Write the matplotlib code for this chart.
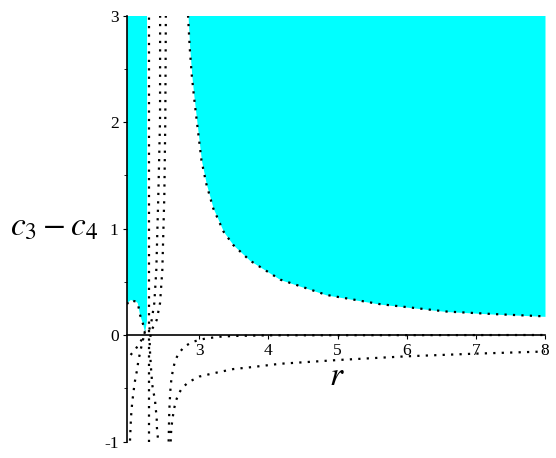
import numpy as np
import matplotlib
matplotlib.use("Agg")
import matplotlib.pyplot as plt

plt.rcParams['font.family'] = ['Liberation Serif', 'DejaVu Serif']
plt.rcParams['mathtext.fontset'] = 'stix'
plt.rcParams['axes.unicode_minus'] = False

# --- data ---
x_min, x_max = 1.953, 8.0
y_min, y_max = -1.0, 3.0

# right boundary of the big cyan region
hyp_x = [2.836, 2.86, 2.89, 2.92, 2.95, 3.03, 3.10, 3.20, 3.35, 3.49, 3.73, 4.17, 4.84, 5.61, 6.58, 7.3, 8.0]
hyp_y = [3.0, 2.70, 2.44, 2.25, 2.08, 1.64, 1.42, 1.19, 0.97, 0.845, 0.70, 0.52, 0.376, 0.29, 0.22, 0.195, 0.175]

# bottom of the narrow cyan strip (bump), ending at the tip
bump_x = [1.953, 1.975, 2.01, 2.04, 2.08, 2.108, 2.127, 2.141, 2.166, 2.189, 2.203, 2.213]
bump_y = [0.29, 0.31, 0.33, 0.32, 0.315, 0.30, 0.24, 0.19, 0.14, 0.094, 0.054, 0.031]
# right edge of the strip, from the tip upwards
strip_x = [2.213, 2.225, 2.243, 2.243]
strip_y = [0.031, 0.06, 0.14, 3.0]

# branch leaving the tip to the left
e_x = [2.213, 2.19, 2.141, 2.079, 1.996, 1.953]
e_y = [0.031, -0.016, -0.07, -0.131, -0.194, -0.22]

# branch with asymptote near r = 2
f_x = [2.19, 2.166, 2.141, 2.117, 2.102, 2.079, 2.059, 2.045, 2.030, 2.021, 2.011, 2.006, 2.001, 1.996]
f_y = [-0.03, -0.094, -0.17, -0.24, -0.32, -0.39, -0.47, -0.55, -0.62, -0.69, -0.77, -0.845, -0.92, -1.0]

# vertical dotted line
vline_x = 2.275

# two curves above the axis meeting near the tip
q1_x = [2.432, 2.431, 2.406, 2.377, 2.348, 2.31, 2.275, 2.255]
q1_y = [3.0, 2.02, 1.31, 0.61, 0.30, 0.14, 0.05, 0.0]
q2_x = [2.515, 2.507, 2.493, 2.464, 2.431, 2.382, 2.31, 2.28, 2.285, 2.30, 2.319, 2.334,
        2.358, 2.368, 2.383, 2.383, 2.392, 2.406]
q2_y = [3.0, 2.02, 1.31, 0.61, 0.30, 0.14, 0.047, -0.05, -0.15, -0.31, -0.47, -0.53,
        -0.61, -0.69, -0.77, -0.845, -0.92, -1.0]

# curves with asymptote near r = 2.56
g_x = [2.555, 2.558, 2.56, 2.563, 2.566, 2.572, 2.578, 2.586, 2.600, 2.623, 2.648, 2.695,
       2.78, 2.89, 3.0, 3.11, 3.30, 3.50, 4.0, 8.0]
g_y = [-1.0, -0.92, -0.845, -0.767, -0.695, -0.62, -0.54, -0.47, -0.39, -0.313, -0.244, -0.178,
       -0.11, -0.068, -0.045, -0.031, -0.016, -0.009, -0.003, 0.0]
h_x = [2.585, 2.59, 2.60, 2.615, 2.635, 2.66, 2.70, 2.76, 2.85, 3.0, 3.2, 3.49, 3.78,
       4.17, 4.65, 5.0, 6.0, 7.0, 8.0]
h_y = [-1.0, -0.92, -0.845, -0.77, -0.69, -0.62, -0.55, -0.49, -0.44, -0.39, -0.36, -0.32, -0.30,
       -0.27, -0.25, -0.235, -0.20, -0.175, -0.155]

xticks = [3, 4, 5, 6, 7, 8]
yticks = [-1, 0, 1, 2, 3]
ytick_labels = ['-1', '0', '1', '2', '3']
yminor = [-0.5, 0.5, 1.5, 2.5]

cyan = '#00ffff'
dot = dict(color='black', lw=1.6, linestyle=(0, (1, 2.8)), zorder=3)

fig = plt.figure(figsize=(5.56, 4.58), dpi=100)
ax = fig.add_axes([127 / 556, 16.5 / 458, 418 / 556, 426 / 458])
ax.set_xlim(x_min, x_max)
ax.set_ylim(y_min, y_max)

# cyan regions
ax.fill_between(hyp_x, hyp_y, y_max, color=cyan, lw=0, zorder=1)
poly_x = bump_x + strip_x[1:] + [x_min]
poly_y = bump_y + strip_y[1:] + [y_max]
ax.fill(poly_x, poly_y, color=cyan, lw=0, zorder=1)

# dotted curves
ax.plot(hyp_x, hyp_y, **dot)
ax.plot(bump_x, bump_y, **dot)
ax.plot(e_x, e_y, **dot)
ax.plot(f_x, f_y, **dot)
ax.plot([vline_x, vline_x], [y_min, y_max], **dot)
ax.plot(q1_x, q1_y, **dot)
ax.plot(q2_x, q2_y, **dot)
ax.plot(g_x, g_y, **dot)
ax.plot(h_x, h_y, **dot)

# axes in Maple style
for s in ['top', 'right']:
    ax.spines[s].set_visible(False)
ax.spines['bottom'].set_position(('data', 0))
ax.spines['bottom'].set_linewidth(1.2)
ax.spines['left'].set_linewidth(1.2)
ax.spines['bottom'].set_zorder(4)
ax.spines['left'].set_zorder(4)

ax.set_xticks(xticks)
ax.set_xticklabels([str(v) for v in xticks])
ax.set_yticks(yticks)
ax.set_yticklabels(ytick_labels)
ax.set_yticks(yminor, minor=True)
ax.tick_params(axis='both', which='major', direction='out', length=3, width=0.8,
               labelsize=12.5, pad=3)
ax.tick_params(axis='y', which='minor', direction='out', length=2, width=0.6)
ax.set_facecolor('white')

fig.text(10 / 556, 1 - 235 / 458, r'$c_3 - c_4$', fontsize=24, ha='left', va='baseline')
fig.text(337 / 556, 1 - 385 / 458, r'$r$', fontsize=24, ha='center', va='baseline')

fig.savefig('out.png', dpi=100)
